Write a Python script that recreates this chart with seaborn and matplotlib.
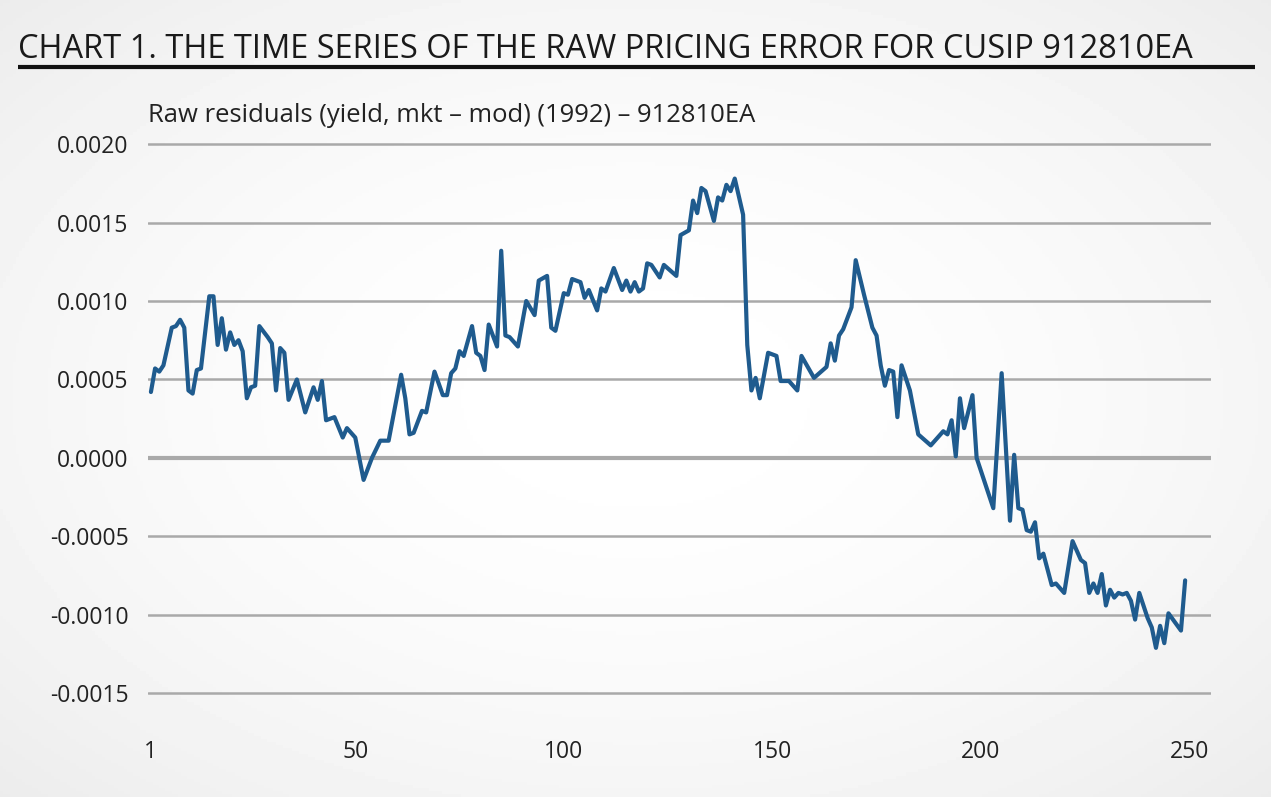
import numpy as np
import pandas as pd
import matplotlib
matplotlib.use("Agg")
import matplotlib.pyplot as plt
import seaborn as sns

# ── data ─────────────────────────────────────────────────────────────────────
obs = [1, 2, 3, 4, 6, 7, 8, 9, 10, 11, 12, 13, 15, 16, 17, 18, 19, 20, 21, 22,
       23, 24, 25, 26, 27, 29, 30, 31, 32, 33, 34, 36, 38, 40, 41, 42, 43, 45, 47, 48,
       50, 52, 54, 56, 58, 61, 62, 63, 64, 66, 67, 69, 71, 72, 73, 74, 75, 76, 78, 79,
       80, 81, 82, 84, 85, 86, 87, 89, 91, 93, 94, 96, 97, 98, 100, 101, 102, 104, 105, 106,
       108, 109, 110, 112, 114, 115, 116, 117, 118, 119, 120, 121, 123, 124, 127, 128, 130, 131, 132, 133,
       134, 136, 137, 138, 139, 140, 141, 143, 144, 145, 146, 147, 149, 151, 152, 154, 156, 157, 160, 163,
       164, 165, 166, 167, 169, 170, 172, 174, 175, 176, 177, 178, 179, 180, 181, 183, 185, 188, 191, 192,
       193, 194, 195, 196, 198, 199, 200, 202, 203, 205, 207, 208, 209, 210, 211, 212, 213, 214, 215, 217,
       218, 220, 222, 224, 225, 226, 227, 228, 229, 230, 231, 232, 233, 234, 235, 236, 237, 238, 240, 241,
       242, 243, 244, 245, 248, 249]

resid = [0.00042, 0.00057, 0.00055, 0.00059, 0.00083, 0.00084, 0.00088, 0.00083, 0.00043, 0.00041,
         0.00056, 0.00057, 0.00103, 0.00103, 0.00072, 0.00089, 0.00069, 0.00080, 0.00072, 0.00075,
         0.00068, 0.00038, 0.00045, 0.00046, 0.00084, 0.00077, 0.00073, 0.00043, 0.00070, 0.00067,
         0.00037, 0.00050, 0.00029, 0.00045, 0.00037, 0.00049, 0.00024, 0.00026, 0.00013, 0.00019,
         0.00013, -0.00014, 0.00000, 0.00011, 0.00011, 0.00053, 0.00038, 0.00015, 0.00016, 0.00030,
         0.00029, 0.00055, 0.00040, 0.00040, 0.00054, 0.00057, 0.00068, 0.00065, 0.00084, 0.00067,
         0.00065, 0.00056, 0.00085, 0.00071, 0.00132, 0.00078, 0.00077, 0.00071, 0.00100, 0.00091,
         0.00113, 0.00116, 0.00083, 0.00081, 0.00105, 0.00104, 0.00114, 0.00112, 0.00102, 0.00107,
         0.00094, 0.00108, 0.00106, 0.00121, 0.00107, 0.00113, 0.00106, 0.00112, 0.00106, 0.00108,
         0.00124, 0.00123, 0.00115, 0.00123, 0.00116, 0.00142, 0.00145, 0.00164, 0.00156, 0.00172,
         0.00170, 0.00151, 0.00166, 0.00164, 0.00174, 0.00170, 0.00178, 0.00155, 0.00072, 0.00043,
         0.00051, 0.00038, 0.00067, 0.00065, 0.00049, 0.00049, 0.00043, 0.00065, 0.00051, 0.00058,
         0.00073, 0.00062, 0.00078, 0.00082, 0.00096, 0.00126, 0.00104, 0.00083, 0.00078, 0.00059,
         0.00046, 0.00056, 0.00055, 0.00026, 0.00059, 0.00043, 0.00015, 0.00008, 0.00017, 0.00015,
         0.00024, 0.00001, 0.00038, 0.00019, 0.00040, 0.00000, -0.00008, -0.00024, -0.00032, 0.00054,
         -0.00040, 0.00002, -0.00032, -0.00033, -0.00046, -0.00047, -0.00041, -0.00064, -0.00061, -0.00081,
         -0.00080, -0.00086, -0.00053, -0.00065, -0.00067, -0.00086, -0.00080, -0.00086, -0.00074, -0.00094,
         -0.00084, -0.00089, -0.00086, -0.00087, -0.00086, -0.00091, -0.00103, -0.00086, -0.00102, -0.00108,
         -0.00121, -0.00107, -0.00118, -0.00099, -0.00110, -0.00078]

x_ticks = [1, 50, 100, 150, 200, 250]
y_ticks = [-0.0015, -0.0010, -0.0005, 0.0000, 0.0005, 0.0010, 0.0015, 0.0020]

TITLE = "CHART 1. THE TIME SERIES OF THE RAW PRICING ERROR FOR CUSIP 912810EA"
SUBTITLE = "Raw residuals (yield, mkt \u2013 mod) (1992) \u2013 912810EA"

LINE_COLOR = "#1f5b8e"
GRID_COLOR = "#a9a9a9"
TEXT_COLOR = "#222222"

# ── style ────────────────────────────────────────────────────────────────────
sns.set_theme(style="white")
plt.rcParams['font.family'] = ['Open Sans', 'DejaVu Sans']

W, H = 1271, 797
fig = plt.figure(figsize=(W / 100, H / 100), dpi=100)

# soft radial background
bg = fig.add_axes([0, 0, 1, 1], zorder=-10)
gx, gy = np.meshgrid(np.linspace(-1, 1, 400), np.linspace(-1, 1, 260))
r = np.sqrt(gx**2 + gy**2) / np.sqrt(2)
shade = 1 - 0.075 * r**1.8
bg.imshow(shade, cmap="gray", vmin=0, vmax=1, aspect="auto", extent=[0, 1, 0, 1])
bg.axis("off")

# main axes (pixel layout from the reference)
left, right = 148, 1211
top, bottom = 136.2, 701.2
ax = fig.add_axes([left / W, 1 - bottom / H, (right - left) / W, (bottom - top) / H])
ax.set_facecolor("none")

df = pd.DataFrame({"obs": obs, "resid": resid})
sns.lineplot(data=df, x="obs", y="resid", ax=ax, color=LINE_COLOR, linewidth=3.0, zorder=5)

ax.set_xlim(0.3, 255.2)
ax.set_ylim(-0.00155, 0.00205)
ax.set_xticks(x_ticks)
ax.set_yticks(y_ticks)
ax.set_yticklabels([f"{v:.4f}" for v in y_ticks])
ax.set_xlabel("")
ax.set_ylabel("")

for v in y_ticks:
    ax.axhline(v, color=GRID_COLOR, lw=3.0 if v == 0 else 1.8, zorder=1)

for s in ax.spines.values():
    s.set_visible(False)
ax.tick_params(axis="both", length=0, labelsize=16.5, colors=TEXT_COLOR)
ax.tick_params(axis="y", pad=14)
ax.tick_params(axis="x", pad=28)

# ── titles ───────────────────────────────────────────────────────────────────
renderer = fig.canvas.get_renderer()

def fit_width(txt, target_px):
    w = txt.get_window_extent(renderer).width
    txt.set_fontsize(txt.get_fontsize() * target_px / w)

t = fig.text(18 / W, 1 - 58 / H, TITLE, fontsize=24, color="#1a1a1a", va="baseline", ha="left")
fit_width(t, 1177)

st = fig.text(148 / W, 1 - 122 / H, SUBTITLE, fontsize=16, color=TEXT_COLOR, va="baseline", ha="left")
fit_width(st, 607)

fig.add_artist(plt.Line2D([18 / W, 1255 / W], [1 - 66.5 / H, 1 - 66.5 / H],
                          color="#111111", lw=3.0, solid_capstyle="butt"))

plt.savefig("out.png", dpi=100)
plt.close()
